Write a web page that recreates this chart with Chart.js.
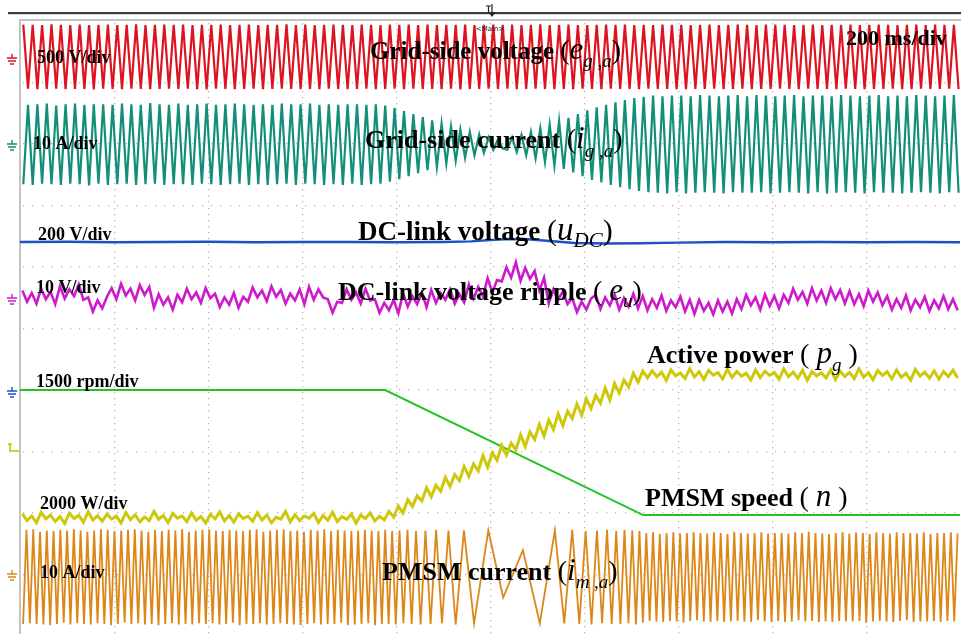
<!DOCTYPE html>
<html>
<head>
<meta charset="utf-8">
<script src="https://cdn.jsdelivr.net/npm/chart.js@4.4.1/dist/chart.umd.min.js"></script>
<style>
  html, body { margin: 0; padding: 0; background: #fff; }
  canvas { display: block; }
</style>
</head>
<body>
<canvas id="scope" width="961" height="634"></canvas>
<script>
// time axis: 10 div x 200 ms, values in ms
const timeDivs = [0, 200, 400, 600, 800, 1000, 1200, 1400, 1600, 1800, 2000];
const levelDivs = [1, 2, 3, 4, 5, 6, 7, 8, 9];

// grid-side voltage e_ga (V), one sample per half cycle from 7 ms, 10 ms apart
const gridVoltStart = 7, gridStep = 10;
const gridVolt = [
  262,-258,260,-263,259,-260,264,-259,261,-262,258,-261,263,-260,259,-264,260,-258,262,-261,
  259,-262,261,-258,264,-260,258,-263,260,-261,262,-259,261,-260,263,-258,259,-262,260,-264,
  261,-259,263,-261,258,-262,260,-260,262,-258,259,-263,261,-261,260,-259,264,-260,258,-262,
  263,-260,259,-262,261,-258,262,-261,260,-263,258,-260,262,-259,261,-262,259,-261,263,-258,
  260,-263,262,-259,258,-261,263,-260,259,-262,261,-258,260,-264,262,-260,258,-261,261,-259,
  262,-261,260,-258,263,-262,259,-260,261,-259,264,-261,258,-262,260,-260,262,-263,259,-258,
  259,-260,261,-263,262,-258,260,-261,263,-260,259,-262,261,-259,258,-261,263,-260,260,-262,
  261,-262,258,-260,260,-261,262,-259,259,-263,261,-260,263,-258,260,-262,259,-261,262,-260,
  263,-259,260,-261,259,-262,261,-258,262,-260,258,-261,260,-263,261,-259,263,-260,258,-262,
  260,-261,262,-260,261,-259,258,-263,260,-262,263,-258,259,-261,262,-260,261,-259,260,-262
];

// grid-side current i_ga (A), same sample times
const gridCurr = [
  -6.5,6.4,-6.6,6.5,-6.4,6.6,-6.5,6.3,-6.6,6.5,-6.4,6.6,-6.5,6.4,-6.7,6.5,-6.4,6.5,-6.6,6.4,
  -6.5,6.6,-6.4,6.5,-6.6,6.4,-6.5,6.7,-6.4,6.5,-6.6,6.4,-6.5,6.6,-6.5,6.4,-6.6,6.5,-6.4,6.6,
  -6.5,6.4,-6.6,6.5,-6.5,6.6,-6.4,6.5,-6.6,6.4,-6.5,6.5,-6.6,6.4,-6.5,6.6,-6.4,6.5,-6.6,6.5,
  -6.4,6.6,-6.5,6.4,-6.6,6.5,-6.5,6.4,-6.6,6.5,-6.4,6.5,-6.6,6.4,-6.5,6.5,-6.4,6.3,-6.1,5.9,
  -5.7,5.4,-5.2,4.9,-4.7,4.4,-4.2,3.9,-3.7,3.4,-3.2,2.9,-2.7,2.4,-2.2,2.0,-1.8,1.6,-1.4,1.1,
  -0.9,0.8,-0.7,-0.9,1.1,-1.3,1.5,-1.8,2.0,-2.3,2.6,-2.9,3.2,-3.5,3.8,-4.0,4.3,-4.6,4.9,-5.2,
  5.5,-5.8,6.0,-6.2,6.4,-6.6,6.8,-7.0,7.2,-7.3,7.5,-7.6,7.7,-7.8,7.9,-7.9,7.8,-8.0,7.9,-7.8,
  7.9,-8.0,7.8,-7.9,8.0,-7.8,7.9,-7.9,7.8,-8.0,7.9,-7.8,8.0,-7.9,7.8,-7.9,8.0,-7.8,7.9,-8.0,
  7.8,-7.9,7.9,-7.8,8.0,-7.9,7.8,-8.0,7.9,-7.8,7.9,-8.0,7.8,-7.9,8.0,-7.8,7.9,-7.9,7.8,-8.0,
  7.9,-7.8,8.0,-7.9,7.8,-7.9,7.9,-8.0,7.8,-7.9,8.0,-7.8,7.9,-7.9,7.8,-8.0,7.9,-7.8,8.0,-7.9
];

// DC-link voltage u_DC (V)
const dcTimes = [0,100,200,300,400,500,600,700,800,900,960,1000,1040,1080,1120,1180,1250,1320,1400,1500,1600,1700,1800,1900,2000];
const dcVolt  = [488,489,487,488,489,487,488,488,487,488,490,494,498,497,492,485,483,484,486,488,487,488,487,488,487];

// DC-link voltage ripple e_u (V), samples from 5 ms, 10 ms apart
const rippleStart = 5, rippleStep = 10;
const ripple = [
  1.2,-0.6,0.8,-0.9,1.5,-0.2,1.0,-1.0,1.9,-0.1,1.4,0.3,2.2,-0.3,0.1,-2.2,-0.4,-1.7,0.2,1.6,
  -0.2,2.3,0.4,1.5,-0.4,2.1,0.5,1.8,-1.6,0.6,-1.1,0.1,-1.9,0.5,-0.7,1.5,-0.2,0.9,-0.8,1.6,
  0.0,0.7,-1.5,0.1,-1.1,0.8,-1.6,0.2,-0.6,1.7,0.1,1.2,-0.5,1.9,0.2,1.3,-0.9,0.7,-0.4,1.4,
  -1.0,1.8,-0.3,1.4,0.1,-0.2,-2.4,-0.6,-0.8,1.4,-0.3,0.9,-0.9,1.5,-0.4,-0.2,-2.4,-0.8,-2.0,-0.3,
  -2.5,0.8,-1.4,0.3,-1.0,0.9,-1.5,1.3,-0.8,0.8,-0.3,1.4,-0.9,0.6,-0.7,2.2,-0.1,1.8,0.3,3.2,
  0.9,2.9,2.7,5.0,3.3,5.8,2.8,4.9,3.1,4.4,1.2,3.3,-0.9,1.4,-0.3,1.1,-1.0,0.0,-2.3,-0.6,
  -1.9,-0.1,0.5,-1.8,0.1,-1.2,0.6,-1.9,0.0,-1.4,0.7,-1.7,0.3,-2.0,-0.2,-1.6,0.4,-2.1,-0.4,-1.5,
  0.2,-2.2,-0.3,-2.6,-0.3,-2.1,-0.8,-2.7,-0.4,-2.2,-0.6,-2.5,-0.2,-1.8,0.5,-1.2,0.1,-1.9,0.6,-1.3,
  0.3,-1.7,0.5,-0.8,1.5,-0.3,1.0,-0.9,1.6,-0.4,1.2,-0.8,1.6,-0.2,1.3,-0.9,1.1,-1.0,0.6,-1.3,
  1.2,-0.6,0.9,-1.2,0.3,-1.9,-0.2,-1.6,0.4,-2.0,-0.3,-1.5,0.2,-2.1,-0.4,-1.7,0.3,-1.8,-0.2,-2.0
];

// PMSM speed n (rpm)
const speedTimes = [0, 777, 1326, 2000];
const speedRpm   = [1490, 1490, -1560, -1560];

// active power p_g (W), samples from 5 ms, 10 ms apart
const powerStart = 5, powerStep = 10;
const power = [
  -2040,-2260,-2110,-2330,-1990,-2200,-2080,-2290,-2130,-2350,
  -2020,-2190,-2090,-2310,-1970,-2240,-2100,-2280,-2050,-2210,
  -2120,-2340,-2000,-2230,-2070,-2300,-2140,-2260,-1960,-2220,
  -2090,-2320,-2030,-2180,-2110,-2290,-2010,-2250,-2130,-2340,
  -2060,-2200,-1980,-2270,-2100,-2310,-2040,-2190,-2120,-2280,
  -2000,-2240,-2080,-2330,-2150,-2210,-1960,-2300,-2070,-2260,
  -2110,-2180,-2030,-2320,-2090,-2250,-1990,-2290,-2130,-2220,
  -2050,-2340,-2080,-2200,-2010,-2270,-2120,-2240,
  -1960,-2150,-1790,-2010,-1580,-1800,-1450,-1620,-1190,-1480,
  -1110,-1300,-850,-1150,-760,-960,-500,-820,-420,-640,
  -150,-520,-60,-300,190,-130,260,40,530,150,
  620,380,870,490,1010,700,1210,830,1300,1060,
  1540,1170,1700,1380,1810,1560,2050,1660,2200,1890,
  2310,2080,2530,2240,2600,
  2380,2610,2420,2570,2300,2640,2450,2540,2360,2680,
  2410,2580,2330,2620,2470,2550,2350,2660,2400,2590,
  2440,2530,2310,2640,2390,2600,2460,2560,2340,2670,
  2420,2570,2370,2630,2300,2590,2450,2540,2380,2650,
  2330,2600,2430,2560,2360,2680,2410,2550,2320,2620,
  2460,2580,2350,2640,2400,2530,2310,2660,2440,2570,
  2370,2610,2340,2590,2420,2630,2380
];

// PMSM current i_ma (A): steady peaks, peaks through the speed reversal, steady peaks
const motorLeadStart = 6.6, motorStep = 7.2;
const motorLead = [
  -7.6,7.7,-7.5,7.8,-7.6,7.4,-7.7,7.6,-7.8,7.5,-7.6,7.7,-7.4,7.6,-7.7,7.8,-7.5,7.6,-7.6,7.4,
  -7.7,7.6,-7.5,7.8,-7.6,7.7,-7.8,7.5,-7.6,7.6,-7.4,7.7,-7.6,7.8,-7.5,7.6,-7.7,7.4,-7.6,7.7,
  -7.8,7.5,-7.6,7.7,-7.5,7.6,-7.7,7.8,-7.6,7.4,-7.7,7.6,-7.5,7.7,-7.6,7.8,-7.5,7.6,-7.7,7.5,
  -7.6,7.7,-7.4,7.6,-7.8,7.5,-7.6,7.7,-7.6,7.8,-7.5,7.4,-7.7,7.6,-7.6,7.7,-7.5,7.8,-7.6,7.5,
  -7.7,7.6,-7.8,7.4,-7.6,7.7,-7.5,7.6,-7.7,7.8,-7.6,7.5,-7.6,7.7,-7.4,7.6,-7.8,7.5,-7.7,7.6,
  -7.6,7.7,-7.5,7.6,-7.8,7.5,-7.6,7.7
];
const motorRampTimes = [
  784.3,791.8,799.5,807.5,815.8,824.4,833.3,842.6,852.4,862.7,873.6,885.3,897.8,911.6,926.9,944.6,966.1,996.4,
  1028,1070,1106,1138,
  1158,1175,1190,1203.5,1216,1227.5,1238.5,1249,1259,1268.5,1277.5,1286.2,1294.6,1302.7,1310.5,1318,1325.3
];
const motorRamp = [
  -7.6,7.5,-7.7,7.6,-7.5,7.7,-7.6,7.5,-7.7,7.6,-7.6,7.7,-7.5,7.6,-7.7,7.6,-7.5,7.6,
  -3.3,4.4,-7.5,7.6,
  -7.5,7.7,-7.6,7.5,-7.7,7.6,-7.5,7.7,-7.6,7.5,-7.6,7.7,-7.5,7.6,-7.7,7.5,-7.4
];
const motorTailStart = 1332.5;
const motorTail = [
  7.2,-7.1,7.3,-7.2,7.0,-7.3,7.2,-7.1,7.3,-7.2,7.1,-7.4,7.2,-7.1,7.3,-7.0,7.2,-7.2,7.1,-7.3,
  7.3,-7.1,7.2,-7.3,7.0,-7.2,7.4,-7.1,7.2,-7.2,7.1,-7.3,7.2,-7.0,7.3,-7.2,7.1,-7.3,7.2,-7.1,
  7.2,-7.3,7.1,-7.2,7.3,-7.0,7.2,-7.2,7.4,-7.1,7.2,-7.3,7.1,-7.2,7.0,-7.3,7.2,-7.1,7.3,-7.2,
  7.1,-7.2,7.3,-7.1,7.2,-7.4,7.0,-7.2,7.3,-7.1,7.2,-7.2,7.1,-7.3,7.3,-7.1,7.2,-7.0,7.2,-7.3,
  7.1,-7.2,7.3,-7.2,7.0,-7.1,7.2,-7.3,7.2,-7.1,7.3,-7.2,7.1
];

// scale labels
const scaleLabels = ["500 V/div", "10 A/div", "200 V/div", "10 V/div", "1500 rpm/div", "2000 W/div", "10 A/div"];
const timeLabel = "200 ms/div";

// channel offsets in divisions above the bottom gridline, and units per division
const ch = {
  volt:   { off: 9.40, per: 500,  color: "#dc1420" },
  curr:   { off: 7.98, per: 10,   color: "#128f78" },
  dc:     { off: 3.95, per: 200,  color: "#1b52c6" },
  ripple: { off: 5.48, per: 10,   color: "#cc1acc" },
  speed:  { off: 2.99, per: 1500, color: "#22c41e" },
  power:  { off: 2.99, per: 2000, color: "#cfc70a" },
  motor:  { off: 0.94, per: 10,   color: "#dc8718" }
};

function uniform(start, step, values, c) {
  return values.map((v, i) => ({ x: start + i * step, y: c.off + v / c.per }));
}
function timed(times, values, c) {
  return times.map((t, i) => ({ x: t, y: c.off + values[i] / c.per }));
}

const motorPts = uniform(motorLeadStart, motorStep, motorLead, ch.motor)
  .concat(timed(motorRampTimes, motorRamp, ch.motor))
  .concat(uniform(motorTailStart, motorStep, motorTail, ch.motor));

function ds(data, c, w, order) {
  return { data: data, borderColor: c.color, borderWidth: w, pointRadius: 0, tension: 0, fill: false, order: order };
}

const gridDots = {
  id: "gridDots",
  beforeDatasetsDraw(chart) {
    const { ctx, chartArea: a, scales: { x, y } } = chart;
    ctx.save();
    ctx.fillStyle = "#b8b8b8";
    timeDivs.slice(1, -1).forEach(v => {
      const px = Math.round(x.getPixelForValue(v));
      for (let py = a.top + 3; py < a.bottom; py += 6.15) ctx.fillRect(px, Math.round(py), 1.3, 1.3);
    });
    levelDivs.forEach(v => {
      const py = Math.round(y.getPixelForValue(v));
      for (let px = a.left + 3; px < a.right; px += 9.4) ctx.fillRect(Math.round(px), py, 1.3, 1.3);
    });
    // frame
    ctx.strokeStyle = "#c4c4c4";
    ctx.lineWidth = 2;
    ctx.beginPath();
    ctx.moveTo(a.left, a.bottom); ctx.lineTo(a.left, a.top); ctx.lineTo(a.right + 2, a.top);
    ctx.stroke();
    ctx.restore();
  }
};

function rich(ctx, x, y, parts) {
  parts.forEach(p => {
    ctx.font = p[1];
    ctx.fillText(p[0], x, y + (p[2] || 0));
    x += ctx.measureText(p[0]).width;
  });
}

function ground(ctx, x, y, color) {
  ctx.strokeStyle = color;
  ctx.lineWidth = 1.4;
  ctx.beginPath();
  ctx.moveTo(x + 4, y - 4); ctx.lineTo(x + 4, y);
  ctx.moveTo(x - 1, y); ctx.lineTo(x + 9, y);
  ctx.moveTo(x, y + 3); ctx.lineTo(x + 8, y + 3);
  ctx.moveTo(x + 2, y + 6); ctx.lineTo(x + 6, y + 6);
  ctx.stroke();
}

const overlay = {
  id: "overlay",
  afterDraw(chart) {
    const ctx = chart.ctx;
    ctx.save();
    // top bar and trigger
    ctx.fillStyle = "#3c3c3c";
    ctx.fillRect(8, 12, 953, 2.2);
    ctx.strokeStyle = "#222"; ctx.lineWidth = 1.2;
    ctx.beginPath();
    ctx.moveTo(486, 6); ctx.lineTo(491, 6); ctx.moveTo(488.5, 6); ctx.lineTo(488.5, 13);
    ctx.moveTo(492, 4); ctx.lineTo(492, 16); ctx.moveTo(489, 12); ctx.lineTo(492, 16); ctx.lineTo(495, 12);
    ctx.stroke();
    ctx.fillStyle = "#222";
    ctx.font = "7px 'DejaVu Sans'";
    ctx.textAlign = "center";
    ctx.fillText("<Main>", 490, 31);
    ctx.textAlign = "left";

    // channel ground markers
    ground(ctx, 8, 58, ch.volt.color);
    ground(ctx, 8, 144, ch.curr.color);
    ground(ctx, 8, 298, ch.ripple.color);
    ground(ctx, 8, 391, ch.dc.color);
    ground(ctx, 8, 574, ch.motor.color);
    ctx.strokeStyle = "#b8c800"; ctx.lineWidth = 1.6;
    ctx.beginPath();
    ctx.moveTo(10, 444); ctx.lineTo(10, 451); ctx.lineTo(19, 451);
    ctx.moveTo(8, 444); ctx.lineTo(12, 444);
    ctx.stroke();

    // scale labels
    ctx.fillStyle = "#000";
    ctx.font = "bold 18px 'Liberation Serif'";
    const pos = [[37, 63], [33, 149], [38, 240], [36, 293], [36, 387], [40, 509], [40, 578]];
    scaleLabels.forEach((t, i) => ctx.fillText(t, pos[i][0], pos[i][1]));
    ctx.font = "bold 22px 'Liberation Serif'";
    ctx.fillText(timeLabel, 846, 45);

    // signal names
    const B = "bold 26px 'Liberation Serif'";
    const P = "28px 'Liberation Serif'";
    const I = "italic 31px 'Liberation Serif'";
    const S = "italic 19px 'Liberation Serif'";
    rich(ctx, 370, 59, [["Grid-side voltage ", "bold 25px 'Liberation Serif'"], ["(", P], ["e", I], ["g ,a", S, 8], [")", P]]);
    rich(ctx, 365, 148, [["Grid-side current ", B], ["(", P], ["i", I], ["g ,a", S, 9], [")", P]]);
    rich(ctx, 358, 240, [["DC-link voltage ", "bold 27px 'Liberation Serif'"], ["(", "30px 'Liberation Serif'"], ["u", "italic 33px 'Liberation Serif'"], ["DC", "italic 21px 'Liberation Serif'", 7], [")", "30px 'Liberation Serif'"]]);
    rich(ctx, 338, 300, [["DC-link voltage ripple ", B], ["( ", P], ["e", I], ["u", S, 7], [")", P]]);
    rich(ctx, 647, 363, [["Active power ", B], ["( ", P], ["p", I], ["g", S, 8], [" )", P]]);
    rich(ctx, 645, 506, [["PMSM speed ", B], ["( ", P], ["n", I], [" )", P]]);
    rich(ctx, 382, 580, [["PMSM current ", B], ["(", P], ["i", I], ["m ,a", S, 8], [")", P]]);
    ctx.restore();
  }
};

new Chart(document.getElementById("scope"), {
  type: "line",
  data: {
    datasets: [
      ds(uniform(powerStart, powerStep, power, ch.power), ch.power, 3, 1),
      ds(timed(speedTimes, speedRpm, ch.speed), ch.speed, 2, 2),
      ds(uniform(gridVoltStart, gridStep, gridVolt, ch.volt), ch.volt, 2.2, 3),
      ds(uniform(gridVoltStart, gridStep, gridCurr, ch.curr), ch.curr, 2.2, 4),
      ds(timed(dcTimes, dcVolt, ch.dc), ch.dc, 2.4, 5),
      ds(uniform(rippleStart, rippleStep, ripple, ch.ripple), ch.ripple, 2.6, 6),
      ds(motorPts, ch.motor, 1.8, 7)
    ]
  },
  options: {
    responsive: false,
    animation: false,
    devicePixelRatio: 1,
    events: [],
    layout: { padding: { left: 20, top: 20, right: 1, bottom: 0 } },
    plugins: { legend: { display: false }, tooltip: { enabled: false } },
    scales: {
      x: { type: "linear", min: 0, max: 2000, display: false },
      y: { type: "linear", min: 0.0163, max: 10, display: false }
    }
  },
  plugins: [gridDots, overlay]
});
</script>
</body>
</html>
